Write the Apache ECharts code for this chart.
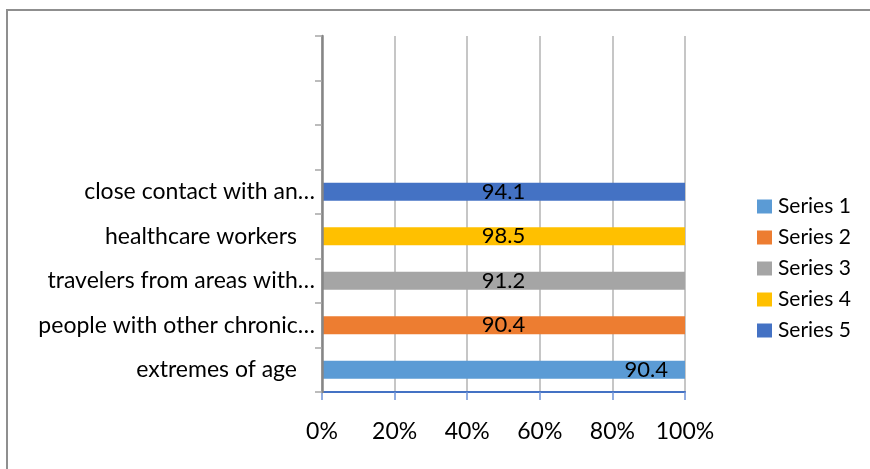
<!DOCTYPE html>
<html>
<head>
<meta charset="utf-8">
<script src="https://cdn.jsdelivr.net/npm/echarts@6/dist/echarts.min.js"></script>
<style>
html,body{margin:0;padding:0;background:#fff;}
#chart{width:870px;height:469px;}
</style>
</head>
<body>
<div id="chart"></div>
<script>
// ---- data ----
var categories = ['extremes of age', 'people with other chronic…', 'travelers from areas with…', 'healthcare workers', 'close contact with an…', '', '', ''];
var seriesNames = ['Series 1', 'Series 2', 'Series 3', 'Series 4', 'Series 5'];
var series1 = [90.4, null, null, null, null, null, null, null];
var series2 = [null, 90.4, null, null, null, null, null, null];
var series3 = [null, null, 91.2, null, null, null, null, null];
var series4 = [null, null, null, 98.5, null, null, null, null];
var series5 = [null, null, null, null, 94.1, null, null, null];
var xTicks = [0, 20, 40, 60, 80, 100];

var colors = ['#5B9BD5', '#ED7D31', '#A5A5A5', '#FFC000', '#4472C4'];
var allSeries = [series1, series2, series3, series4, series5];

// 100% stacked: compute share of each category total
var totals = categories.map(function (c, i) {
  var t = 0;
  allSeries.forEach(function (s) { if (s[i] != null) t += s[i]; });
  return t;
});

var FONT = 'Lato';

var chart = echarts.init(document.getElementById('chart'));
var seriesOpts = allSeries.map(function (s, k) {
  return {
    name: seriesNames[k],
    type: 'bar',
    stack: 'total',
    barWidth: 18,
    itemStyle: { color: colors[k] },
    label: {
      show: true,
      position: k === 0 ? 'insideRight' : 'inside',
      distance: 17,
      color: '#000',
      fontFamily: FONT,
      fontSize: 22,
      formatter: function (p) { return s[p.dataIndex] == null ? '' : String(s[p.dataIndex]); }
    },
    data: s.map(function (v, i) { return v == null ? '-' : v / totals[i] * 100; })
  };
});

chart.setOption({
  animation: false,
  grid: { left: 322, right: 185, top: 36, bottom: 77, containLabel: false },
  legend: {
    orient: 'vertical',
    left: 752,
    top: 191,
    itemWidth: 15,
    itemHeight: 14,
    itemGap: 10,
    icon: 'rect',
    textStyle: { fontFamily: FONT, fontSize: 21, color: '#000', lineHeight: 20, padding: [0, 0, 0, 1] },
    data: seriesNames
  },
  xAxis: {
    type: 'value',
    min: xTicks[0], max: xTicks[xTicks.length - 1], interval: xTicks[1] - xTicks[0],
    axisLine: { show: true, lineStyle: { color: '#4472C4', width: 2 } },
    axisTick: { show: true, length: 8, lineStyle: { color: '#6f92d6', width: 1.5 } },
    splitLine: { show: true, lineStyle: { color: '#b3b3b3', width: 1.5 } },
    axisLabel: { formatter: '{value}%', fontFamily: FONT, fontSize: 23, color: '#000', margin: 28 }
  },
  yAxis: {
    type: 'category',
    data: categories,
    z: 3,
    axisLine: { show: true, lineStyle: { color: '#868686', width: 2.5 } },
    axisTick: { show: true, length: 7, lineStyle: { color: '#a6a6a6', width: 1.5 } },
    axisLabel: {
      fontFamily: FONT, fontSize: 23, color: '#000', margin: 7,
      formatter: function (v) {
        if (!v) return '';
        return v.charAt(v.length - 1) === '…' ? v : '{p|' + v + '}';
      },
      rich: { p: { fontFamily: FONT, fontSize: 23, color: '#000', padding: [0, 18, 0, 0] } }
    }
  },
  graphic: [{
    type: 'rect',
    shape: { x: 7, y: 10, width: 900, height: 500 },
    style: { fill: 'none', stroke: '#8f8f8f', lineWidth: 2 },
    silent: true
  }],
  series: seriesOpts
});
</script>
</body>
</html>
